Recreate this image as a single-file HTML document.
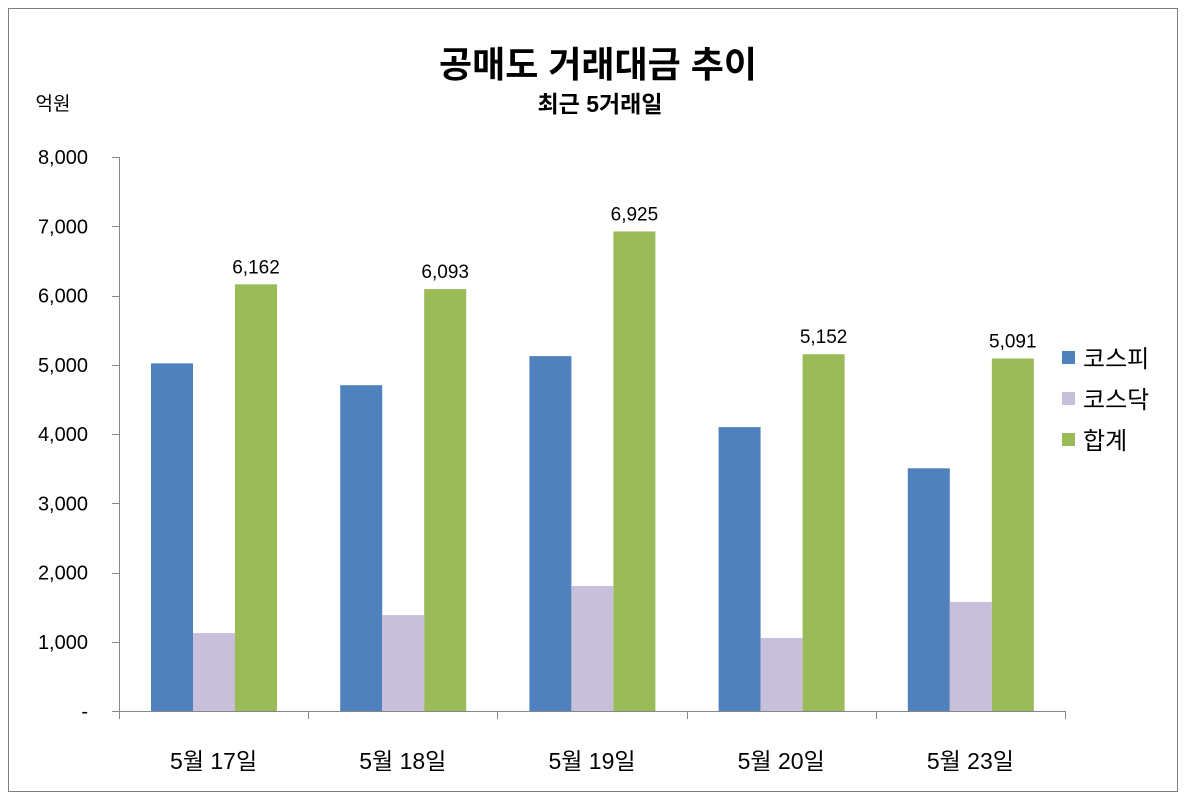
<!DOCTYPE html>
<html><head><meta charset="utf-8">
<style>
html,body{margin:0;padding:0;background:#fff;}
body{width:1186px;height:799px;overflow:hidden;font-family:"Liberation Sans","Noto Sans CJK KR","NanumGothic",sans-serif;}
</style></head>
<body>
<svg id="chart" width="1186" height="799" xmlns="http://www.w3.org/2000/svg" font-family="Liberation Sans, Noto Sans CJK KR, NanumGothic, sans-serif">
<rect x="8.5" y="8.5" width="1169" height="783" fill="#fff" stroke="#7f7f7f" stroke-width="1"/>
<text x="598" y="77" text-anchor="middle" font-size="36" font-weight="bold" fill="#000">공매도 거래대금 추이</text>
<text x="600" y="112" text-anchor="middle" font-size="23" font-weight="bold" fill="#000">최근 5거래일</text>
<text x="53" y="110" text-anchor="middle" font-size="19" fill="#000">억원</text>
<g id="axes"></g>
<g id="bars"></g>
<g id="legend"></g>
</svg>
<script>
const categories=["5월 17일","5월 18일","5월 19일","5월 20일","5월 23일"];
const kospi=[5020,4705,5125,4100,3505];
const kosdaq=[1125,1385,1805,1055,1575];
const total=[6162,6093,6925,5152,5091];
const yTicks=[0,1000,2000,3000,4000,5000,6000,7000,8000];
const yTickLabels=["-","1,000","2,000","3,000","4,000","5,000","6,000","7,000","8,000"];
const seriesNames=["코스피","코스닥","합계"];
const colors=["#4f81bd","#c8bfdb","#9bbb59"];

const NS="http://www.w3.org/2000/svg";
const x0=119,x1=1065,yTop=157,yBot=711,yMax=8000;
const y=v=>yBot-(v/yMax)*(yBot-yTop);
const catW=(x1-x0)/categories.length;
const barW=42,groupOff=32;
function mk(tag,attrs,parent,text){const e=document.createElementNS(NS,tag);for(const k in attrs)e.setAttribute(k,attrs[k]);if(text!==undefined)e.textContent=text;parent.appendChild(e);return e;}
const axes=document.getElementById('axes'),bars=document.getElementById('bars'),legend=document.getElementById('legend');

let yl=mk('line',{x1:x0+0.5,y1:yTop,x2:x0+0.5,y2:yBot,stroke:'#868686'},axes);


yTicks.forEach((t,i)=>{
  const tk=mk('line',{x1:x0-7,y1:Math.round(y(t))+0.5,x2:x0,y2:Math.round(y(t))+0.5,stroke:'#868686'},axes);
  
  
  const lb=mk('text',{x:88,y:y(t)+7,'text-anchor':'end','font-size':20,fill:'#000'},axes,yTickLabels[i]);
  
  
});
let xl=mk('line',{x1:x0,y1:yBot+0.5,x2:x1,y2:yBot+0.5,stroke:'#868686'},axes);


for(let i=0;i<=categories.length;i++){
  const xx=Math.round(x0+i*catW)+0.5;
  const tk=mk('line',{x1:xx,y1:yBot,x2:xx,y2:yBot+8,stroke:'#868686'},axes);
  
  
}
categories.forEach((c,i)=>{
  const lb=mk('text',{x:x0+i*catW+catW/2,y:769,'text-anchor':'middle','font-size':23,fill:'#000'},axes,c);
  
  
});
const series=[kospi,kosdaq,total];
const barNames=['bar-kospi','bar-kosdaq','bar-total'];
categories.forEach((c,i)=>{
  series.forEach((s,j)=>{
    const bx=x0+i*catW+groupOff+j*barW;
    const r=mk('rect',{x:bx,y:y(s[i]),width:barW,height:yBot-y(s[i]),fill:colors[j]},bars);
    
    
  });
  const lx=x0+i*catW+groupOff+2.5*barW;
  const t=mk('text',{x:lx,y:y(total[i])-11,'text-anchor':'middle','font-size':19,fill:'#000'},bars,total[i].toLocaleString('en-US'));
  
  
});
seriesNames.forEach((n,j)=>{
  const ly=358+j*41;
  const sq=mk('rect',{x:1062,y:ly-7,width:13,height:13,fill:colors[j]},legend);
  
  
  const t=mk('text',{x:1083,y:ly+9,'font-size':24,fill:'#000'},legend,n);
  
  
});
</script>
</body></html>
